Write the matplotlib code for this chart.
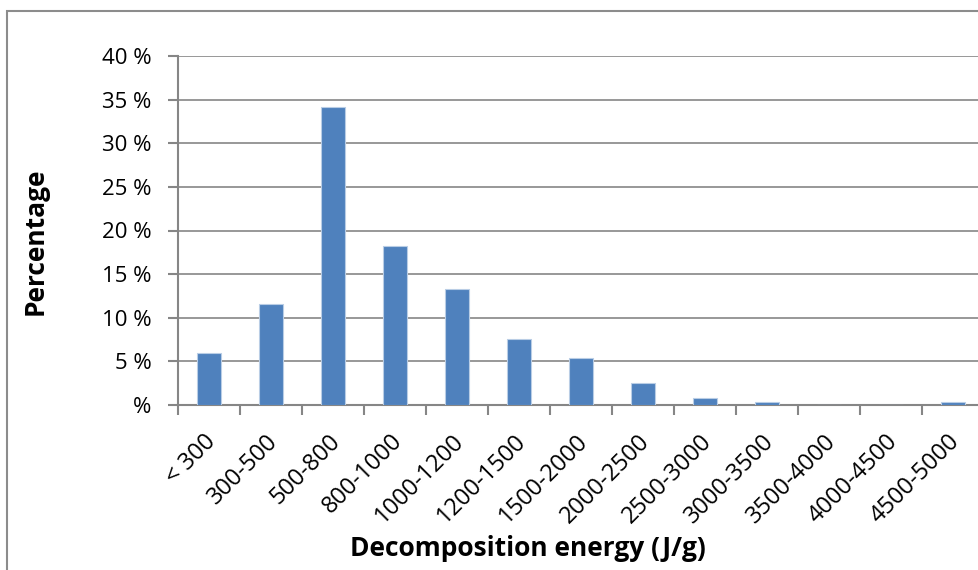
import numpy as np
import matplotlib
matplotlib.use('Agg')
import matplotlib.pyplot as plt
from matplotlib.patches import Rectangle
from matplotlib.transforms import ScaledTranslation

# data
categories = ['< 300', '300-500', '500-800', '800-1000', '1000-1200', '1200-1500',
              '1500-2000', '2000-2500', '2500-3000', '3000-3500', '3500-4000',
              '4000-4500', '4500-5000']
percent = [6.0, 11.6, 34.2, 18.2, 13.3, 7.6, 5.4, 2.5, 0.8, 0.3, 0.0, 0.0, 0.3]
yticks = [0, 5, 10, 15, 20, 25, 30, 35, 40]
ytick_labels = ['%', '5 %', '10 %', '15 %', '20 %', '25 %', '30 %', '35 %', '40 %']

BLUE = '#4f81bd'
GRID = '#868686'

plt.rcParams['font.family'] = ['Open Sans', 'DejaVu Sans']

W, H = 979, 570
fig = plt.figure(figsize=(W / 100, H / 100), dpi=100)

# outer chart frame (cut off at right and bottom)
fig.patches.append(Rectangle((7 / W, -0.1), 1.2, 1 - 11 / H + 0.1,
                             transform=fig.transFigure, fill=False,
                             edgecolor='#8c8c8c', lw=1.5))

left, right = 178, 984
top, bottom = 56, 405
ax = fig.add_axes([left / W, 1 - bottom / H, (right - left) / W, (bottom - top) / H])

x = np.arange(len(categories))
ax.bar(x, percent, width=0.4, color=BLUE, edgecolor='#b9cde5', linewidth=0.8, zorder=3)

ax.set_xlim(-0.5, len(categories) - 0.5)
ax.set_ylim(0, 40)
ax.set_yticks(yticks)
ax.set_yticklabels(ytick_labels, fontsize=16)
ax.yaxis.grid(True, color=GRID, lw=1.2, zorder=0)

ax.set_xticks(np.arange(len(categories) + 1) - 0.5)
ax.set_xticklabels([])
ax.set_xticks(x, minor=True)
ax.set_xticklabels(categories, minor=True, rotation=45, ha='right',
                   rotation_mode='anchor', fontsize=17)
ax.tick_params(axis='x', which='minor', length=0, pad=14)
ax.tick_params(axis='x', which='major', length=7, width=1.5, color=GRID)
ax.tick_params(axis='y', length=7, width=1.5, color=GRID, pad=12)

# nudge the slanted labels a little down and left
shift = ScaledTranslation(-5 / 100, -5 / 100, fig.dpi_scale_trans)
for lab in ax.get_xticklabels(minor=True):
    lab.set_transform(lab.get_transform() + shift)

for s in ['top', 'right']:
    ax.spines[s].set_visible(False)
for s in ['left', 'bottom']:
    ax.spines[s].set_color(GRID)
    ax.spines[s].set_linewidth(1.5)

fig.text(35 / W, 1 - 241 / H, 'Percentage', rotation=90, ha='center', va='center',
         fontsize=19, fontweight='bold')
fig.text(528 / W, 1 - 549 / H, 'Decomposition energy (J/g)', ha='center', va='center',
         fontsize=19, fontweight='bold')

fig.savefig('out.png', dpi=100)
